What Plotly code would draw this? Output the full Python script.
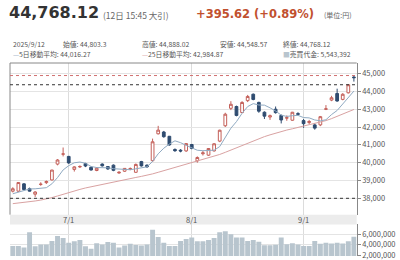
import plotly.graph_objects as go

W, H = 400, 260
def px(x): return x / W
def py(y): return 1 - y / H

dates = ["6/17", "6/18", "6/19", "6/20", "6/23", "6/24", "6/25", "6/26", "6/27", "6/30",
         "7/1", "7/2", "7/3", "7/4", "7/7", "7/8", "7/9", "7/10", "7/11", "7/14",
         "7/15", "7/16", "7/17", "7/18", "7/22", "7/23", "7/24", "7/25", "7/28", "7/29",
         "7/30", "7/31", "8/1", "8/4", "8/5", "8/6", "8/7", "8/8", "8/12", "8/13",
         "8/14", "8/15", "8/18", "8/19", "8/20", "8/21", "8/22", "8/25", "8/26", "8/27",
         "8/28", "8/29", "9/1", "9/2", "9/3", "9/4", "9/5", "9/8", "9/9", "9/10",
         "9/11", "9/12"]

opens = [38400, 38400, 38810, 38540, 38230, 38780, 38880, 39030, 39920, 40480,
         40350, 39620, 39760, 39950, 39740, 39560, 39920, 39780, 39860, 39420,
         39520, 39650, 39460, 40060, 39860, 40110, 41620, 41720, 41480, 40740,
         40700, 40660, 41020, 40100, 40500, 40420, 40660, 41210, 42070, 43050,
         43150, 42810, 43480, 43840, 43380, 42830, 42560, 43000, 42650, 42500,
         42380, 42750, 42360, 42250, 42120, 42120, 43000, 43510, 43880, 43550,
         43920, 44803.3]
highs = [38620, 38900, 38850, 38600, 38400, 38900, 39000, 39600, 40200, 40850,
         40380, 39800, 39850, 39990, 39780, 39750, 39960, 39800, 39900, 39520,
         39700, 39730, 39950, 40100, 39900, 41350, 42065, 41780, 41500, 40800,
         40760, 41100, 41050, 40350, 40650, 40820, 41100, 41850, 42800, 43450,
         43200, 43450, 43800, 43880, 43420, 42880, 42700, 43150, 42700, 42650,
         42850, 42830, 42450, 42400, 42200, 42620, 43230, 43750, 44150, 43900,
         44400, 44888.02]
lows = [38330, 38350, 38450, 38380, 38080, 38700, 38800, 39000, 39850, 40350,
        39930, 39500, 39700, 39750, 39560, 39520, 39780, 39600, 39520, 39380,
        39480, 39580, 39430, 39780, 39700, 40050, 41580, 41400, 40950, 40600,
        40580, 40600, 40750, 40000, 40400, 40380, 40620, 41150, 42000, 42950,
        42600, 42780, 43400, 43500, 42800, 42450, 42400, 42750, 42200, 42350,
        42350, 42650, 41950, 42150, 41850, 42050, 42950, 43450, 43420, 43500,
        43880, 44548.57]
closes = [38536, 38885, 38488, 38403, 38354, 38790, 38942, 39584, 40150, 40487,
          39986, 39762, 39785, 39810, 39587, 39688, 39821, 39646, 39569, 39459,
          39678, 39663, 39901, 39819, 39774, 41171, 41826, 41456, 40998, 40674,
          40654, 41069, 40799, 40290, 40549, 40794, 41059, 41820, 42718, 43274,
          42649, 43378, 43714, 43546, 42888, 42610, 42633, 42807, 42394, 42520,
          42828, 42718, 42188, 42310, 41938, 42580, 43018, 43643, 43459, 43837,
          44372, 44768.12]

ma5 = [38255, 38348, 38411, 38525, 38533, 38584, 38595, 38815, 39164, 39591,
       39830, 39994, 40034, 39966, 39786, 39726, 39738, 39710, 39662, 39637,
       39635, 39603, 39654, 39704, 39767, 40066, 40498, 40809, 41045, 41225,
       41122, 40970, 40839, 40697, 40672, 40700, 40698, 40902, 41388, 41933,
       42304, 42768, 43147, 43312, 43235, 43227, 43078, 42897, 42666, 42593,
       42636, 42653, 42530, 42513, 42396, 42347, 42407, 42698, 42928, 43307,
       43666, 44016.27]
ma25 = [37700, 37730, 37760, 37800, 37850, 37900, 37960, 38040, 38130, 38230,
        38340, 38420, 38500, 38580, 38650, 38720, 38790, 38860, 38930, 38990,
        39050, 39110, 39170, 39230, 39290, 39370, 39460, 39550, 39640, 39730,
        39820, 39910, 40000, 40080, 40160, 40250, 40350, 40460, 40580, 40710,
        40840, 40970, 41100, 41230, 41350, 41460, 41560, 41660, 41750, 41830,
        41900, 41970, 42040, 42110, 42180, 42260, 42360, 42470, 42590, 42720,
        42850, 42984.87]

volume = [3.8, 3.8, 3.5, 6.4, 3.75, 4.05, 4.05, 4.75, 5.7, 5.3,
          4.4, 4.7, 4.9, 3.75, 3.25, 4.3, 4.05, 4.55, 4.4, 3.5,
          3.85, 4.2, 3.95, 3.85, 4.05, 6.9, 5.5, 4.4, 3.8, 3.8,
          4.75, 5.1, 5.4, 4.7, 4.7, 4.9, 5.3, 6.4, 6.6, 6.0,
          5.4, 5.4, 4.75, 4.9, 4.6, 3.9, 3.9, 4.0, 5.4, 4.1,
          4.3, 4.05, 3.8, 3.8, 4.75, 4.2, 4.4, 4.25, 4.4, 4.25,
          4.7, 5.54]
volume = [v * 1_000_000 for v in volume]

month_ticks = ["7/1", "8/1", "9/1"]
price_ticks = [38000, 39000, 40000, 41000, 42000, 43000, 44000, 45000]
volume_ticks = [2_000_000, 4_000_000, 6_000_000]

period_high = 44888.02
prev_close = 44372.5
low_line = 38000

UP = "#c4605a"
DN = "#2f4c70"
MA5C = "#90aac2"
MA25C = "#d9a2a2"
VOLC = "#b8c5ce"
TXT = "#555555"
FONT = "Noto Sans CJK JP"

X0, X1 = 10, 356.7
PT, PB = 64, 218
VT = 228

fig = go.Figure()
fig.add_trace(go.Candlestick(
    x=dates, open=opens, high=highs, low=lows, close=closes,
    increasing=dict(line=dict(color=UP, width=1), fillcolor="white"),
    decreasing=dict(line=dict(color=DN, width=1), fillcolor=DN),
    whiskerwidth=0, showlegend=False, hoverinfo="skip", xaxis="x", yaxis="y"))
fig.add_trace(go.Scatter(x=dates, y=ma25, mode="lines", line=dict(color=MA25C, width=1),
                         showlegend=False, hoverinfo="skip", xaxis="x", yaxis="y"))
fig.add_trace(go.Scatter(x=dates, y=ma5, mode="lines", line=dict(color=MA5C, width=1),
                         showlegend=False, hoverinfo="skip", xaxis="x", yaxis="y"))
fig.add_trace(go.Bar(x=dates, y=volume, marker=dict(color=VOLC, line=dict(width=0)),
                     showlegend=False, hoverinfo="skip", xaxis="x2", yaxis="y2"))

axis_common = dict(type="category", range=[-0.5, len(dates) - 0.5],
                   domain=[px(X0), px(X1)], tickvals=month_ticks, showticklabels=False,
                   showgrid=True, gridcolor="#dcdcdc", gridwidth=1, zeroline=False,
                   ticks="", showline=False, fixedrange=True)

fig.update_layout(
    width=W, height=H, margin=dict(l=0, r=0, t=0, b=0),
    paper_bgcolor="white", plot_bgcolor="white",
    font=dict(family=FONT, size=7.5, color=TXT),
    bargap=0.12, showlegend=False,
    xaxis=dict(anchor="y", rangeslider=dict(visible=False), **axis_common),
    xaxis2=dict(anchor="y2", matches="x", **axis_common),
    yaxis=dict(domain=[py(PB), py(PT)], range=[37083, 45591], side="right",
               tickvals=price_ticks, tickformat=",d", ticks="outside", ticklen=3,
               tickcolor="#888", showline=True, linecolor="#888", linewidth=1,
               showgrid=True, gridcolor="#e4e4e4", zeroline=False,
               ticklabeloverflow="allow",
               tickfont=dict(size=7.5, color=TXT, family=FONT), anchor="x"),
    yaxis2=dict(domain=[0, py(VT)], range=[1.87e6, 7.88e6], side="right",
                tickvals=volume_ticks, tickformat=",d", ticks="outside", ticklen=3,
                tickcolor="#888", showline=True, linecolor="#888", linewidth=1,
                showgrid=True, gridcolor="#e4e4e4", zeroline=False,
                ticklabeloverflow="allow",
                tickfont=dict(size=7.5, color=TXT, family=FONT), anchor="x2"),
)

shapes = [
    dict(type="rect", xref="paper", yref="paper", x0=px(X0), x1=px(X1),
         y0=py(VT), y1=py(PB), fillcolor="#ececec", line=dict(width=0), layer="below"),
    dict(type="line", xref="paper", yref="paper", x0=px(X0), x1=px(X1),
         y0=py(PT), y1=py(PT), line=dict(color="#888", width=1)),
    dict(type="line", xref="paper", yref="paper", x0=px(X0), x1=px(X0),
         y0=py(PB), y1=py(PT), line=dict(color="#888", width=1)),
    dict(type="line", xref="paper", yref="y", x0=px(X0), x1=px(X1),
         y0=period_high, y1=period_high, line=dict(color="#d07070", width=1, dash="dot")),
    dict(type="line", xref="paper", yref="y", x0=px(X0), x1=px(X1),
         y0=prev_close, y1=prev_close, line=dict(color="#333", width=1, dash="dot")),
    dict(type="line", xref="paper", yref="y", x0=px(X0), x1=px(X1),
         y0=low_line, y1=low_line, line=dict(color="#333", width=1, dash="dot")),
]
fig.update_layout(shapes=shapes)

ann = []
for d in month_ticks:
    ann.append(dict(x=d, xref="x", y=py((PB + VT) / 2), yref="paper", text=d,
                    showarrow=False, xanchor="center", yanchor="middle",
                    font=dict(size=7.5, color=TXT, family=FONT)))

def txt(x, y, s, size, color=TXT, family=FONT):
    ann.append(dict(x=px(x), y=py(y), xref="paper", yref="paper", text=s,
                    showarrow=False, xanchor="left", yanchor="middle",
                    font=dict(size=size, color=color, family=family)))

txt(7, 12.8, "<b>44,768.12</b>", 16, "#333333", "DejaVu Sans, " + FONT)
txt(101, 15.3, "(12日 15:45 大引)", 8.5, "#666666")
txt(194, 14.3, "<b>+395.62 (+0.89%)</b>", 11.5, "#c1502e", "DejaVu Sans, " + FONT)
txt(322, 15.3, "(単位:円)", 7, "#666666")

txt(11, 44.3, "2025/9/12", 6.8)
txt(61, 44.3, "始値: 44,803.3", 6.8)
txt(140, 44.3, "高値: 44,888.02", 6.8)
txt(218, 44.3, "安値: 44,548.57", 6.8)
txt(281, 44.3, "終値: 44,768.12", 6.8)
txt(11, 55, f"<span style='color:{MA5C}'>—</span>5日移動平均: 44,016.27", 6.8)
txt(140, 55, f"<span style='color:{MA25C}'>—</span>25日移動平均: 42,984.87", 6.8)
txt(281, 55, f"<span style='color:{VOLC}'>■</span>売買代金: 5,543,392", 6.8)

fig.update_layout(annotations=ann)
fig.write_html("out.html")
